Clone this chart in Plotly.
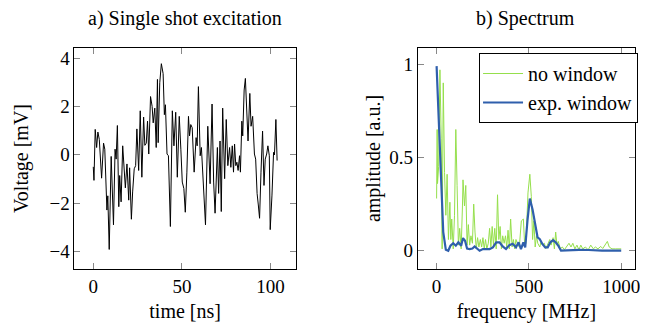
import plotly.graph_objects as go
from plotly.subplots import make_subplots

# ---- data: a) single shot excitation ----
time_ns = [0.0, 0.4, 1.1, 1.9, 2.6, 3.4, 4.7, 5.8, 6.5, 7.7, 8.2, 9.0, 10.1, 11.4, 12.3, 12.9,
           13.6, 14.4, 14.9, 15.7, 16.6, 17.5, 18.1, 19.0, 20.0, 20.5, 21.5, 22.2, 23.1, 23.9,
           24.6, 25.6, 26.5, 27.4, 28.4, 29.1, 29.9, 30.6, 31.3, 32.3, 33.2, 33.8, 34.7, 35.5,
           36.2, 36.6, 37.5, 38.4, 39.4, 40.1, 40.7, 41.6, 42.4, 43.5, 44.6, 45.5, 46.5, 47.4,
           48.5, 49.4, 50.2, 51.1, 51.9, 52.8, 53.7, 54.3, 55.0, 55.8, 56.9, 58.0, 58.6, 59.3,
           60.3, 61.0, 61.9, 63.3, 64.6, 65.9, 67.0, 67.9, 68.7, 69.6, 70.0, 70.7, 71.5, 72.2,
           73.0, 74.1, 75.0, 75.9, 76.9, 77.6, 78.4, 79.1, 79.7, 80.4, 81.0, 81.7, 82.5, 83.0,
           83.8, 84.3, 85.1, 85.8, 86.6, 87.3, 88.3, 89.0, 89.9, 90.9, 91.6, 92.4, 93.1, 93.8,
           94.6, 95.5, 96.3, 97.0, 97.8, 98.5, 99.3, 99.8, 100.8, 101.7, 102.2, 103.0, 103.7]
voltage_mv = [-0.5, -1.06, 1.05, 0.3, 0.94, 0.64, -0.97, 0.48, 0.23, -2.29, -1.7, -3.92, -0.07,
              -2.9, 0.23, -0.18, 1.21, -2.15, -0.86, -1.95, 0.37, -0.86, -1.37, -0.38, -1.88,
              -0.54, -2.67, -1.54, -0.58, -0.45, 1.07, -0.65, 1.82, -0.93, 1.56, 0.39, 0.48,
              1.39, 0.03, 2.41, 2.0, 1.32, 1.93, 0.3, 3.12, 0.5, 2.98, 3.77, 3.36, 1.66, 2.07,
              0.03, -0.04, -2.97, 1.82, 0.37, 1.76, -0.93, 1.59, 0.23, -1.13, -1.4, -2.38, -0.72,
              1.59, 0.78, 1.25, 1.12, -0.72, 0.71, 0.37, 2.82, -0.04, 0.3, -0.99, -2.9, 1.18,
              -1.2, 2.1, -1.13, -2.42, 0.1, 0.3, -1.6, 0.57, -2.35, 1.93, -0.99, 1.46, -0.45,
              0.3, -0.52, 0.37, -0.72, 0.44, -0.45, -0.31, -0.65, -0.04, -0.72, 1.39, 0.78, 2.68,
              3.16, 1.32, 0.57, 2.54, 1.18, 1.59, 0.03, -0.18, -1.6, -2.08, -2.63, -0.72, 0.98,
              -1.27, -0.18, 0.03, 0.37, -0.04, -3.1, -1.67, 0.1, -0.01, 1.46, -0.24]

# ---- data: b) spectrum, no window ----
freq_nowin = [0, 3, 5, 11, 18, 25, 30, 36, 43, 50, 57, 64, 72, 77, 82, 90, 97, 104, 111, 118,
              125, 133, 140, 143, 151, 158, 165, 172, 179, 186, 194, 201, 208, 215, 222, 229,
              237, 244, 251, 258, 265, 272, 280, 287, 294, 301, 308, 315, 323, 330, 337, 344,
              351, 358, 366, 373, 380, 387, 394, 401, 409, 416, 423, 430, 437, 448, 459, 470,
              477, 484, 495, 505, 513, 520, 527, 534, 541, 548, 559, 566, 573, 584, 591, 602,
              613, 620, 631, 638, 645, 652, 659, 670, 681, 692, 702, 717, 728, 738, 749, 760,
              771, 781, 792, 806, 821, 835, 849, 860, 874, 889, 900, 914, 925, 935, 950, 968,
              986, 1000]
amp_nowin = [0.28, 0.65, 0.36, 0.45, 0.97, 0.6, 0.01, 0.9, 0.42, 0.19, 0.41, 0.06, 0.26, 0.06,
             0.17, 0.01, 0.19, 0.65, 0.35, 0.03, 0.12, 0.01, 0.24, 0.38, 0.24, 0.35, 0.03, 0.14,
             0.03, 0.08, 0.04, 0.25, 0.1, 0.01, 0.07, 0.02, 0.06, 0.02, 0.07, 0.01, 0.06, 0.01,
             0.04, 0.12, 0.02, 0.13, 0.03, 0.12, 0.01, 0.3, 0.06, 0.13, 0.01, 0.08, 0.04, 0.08,
             0.02, 0.11, 0.01, 0.17, 0.02, 0.06, 0.01, 0.06, 0.04, 0.02, 0.16, 0.17, 0.03, 0.04,
             0.31, 0.41, 0.29, 0.06, 0.16, 0.02, 0.08, 0.04, 0.02, 0.05, 0.03, 0.04, 0.01, 0.04,
             0.06, 0.03, 0.07, 0.01, 0.1, 0.03, 0.05, 0.01, 0.02, 0.005, 0.02, 0.04, 0.02, 0.04,
             0.01, 0.03, 0.005, 0.03, 0.01, 0.02, 0.005, 0.03, 0.01, 0.02, 0.01, 0.023, 0.012,
             0.03, 0.05, 0.02, 0.01, 0.01, 0.012, 0.01]

# ---- data: b) spectrum, exponential window ----
freq_exp = [0, 9, 22, 36, 50, 63, 75, 90, 104, 118, 133, 143, 154, 165, 179, 194, 206, 219,
            233, 251, 269, 287, 305, 323, 341, 358, 376, 394, 412, 430, 444, 457, 470, 480,
            493, 505, 520, 534, 547, 559, 573, 588, 602, 616, 631, 645, 659, 674, 717, 771,
            824, 896, 1000]
amp_exp = [0.99, 0.77, 0.42, 0.1, 0.005, 0.0, 0.027, 0.04, 0.027, 0.045, 0.027, 0.068, 0.053,
           0.012, 0.009, 0.012, 0.023, 0.012, 0.0, 0.009, 0.009, 0.009, 0.018, 0.045, 0.045,
           0.023, 0.009, 0.03, 0.037, 0.018, 0.045, 0.009, 0.045, 0.018, 0.17, 0.28, 0.22,
           0.133, 0.071, 0.062, 0.036, 0.018, 0.018, 0.045, 0.057, 0.045, 0.027, 0.0, 0.003,
           0.005, 0.004, 0.0, 0.0]

x_ticks_a = [0, 50, 100]
y_ticks_a = [-4, -2, 0, 2, 4]
x_ticks_b = [0, 500, 1000]
y_ticks_b = [0, 0.5, 1]

FONT = "Liberation Serif"
# the page body has an 8px margin: figure is drawn in the 640x317 area after it
OFF = 8
W, H = 640, 317


def xp(px):
    return (px - OFF) / W


def yp(py):
    return 1 - (py - OFF) / H


fig = make_subplots(rows=1, cols=2)

fig.add_trace(go.Scatter(x=time_ns, y=voltage_mv, mode="lines",
                         line=dict(color="black", width=1), showlegend=False), row=1, col=1)
fig.add_trace(go.Scatter(x=freq_nowin, y=amp_nowin, mode="lines", name="no window",
                         line=dict(color="#95df4c", width=1)), row=1, col=2)
fig.add_trace(go.Scatter(x=freq_exp, y=amp_exp, mode="lines", name="exp. window",
                         line=dict(color="#2f5fac", width=2.2)), row=1, col=2)

axis_common = dict(showline=True, linecolor="black", linewidth=1, mirror="allticks",
                   ticks="inside", ticklen=6, tickcolor="#888888", showgrid=False,
                   zeroline=False, tickfont=dict(family=FONT, size=19, color="black"))

yb, yt = yp(269), yp(48)
fig.update_xaxes(domain=[xp(75), xp(298)], range=[-10.6, 114.2], tickvals=x_ticks_a,
                 title=dict(text="time [ns]", font=dict(family=FONT, size=20), standoff=8),
                 row=1, col=1, **axis_common)
fig.update_yaxes(domain=[yb, yt], range=[-4.73, 4.42], tickvals=y_ticks_a,
                 title=dict(text="Voltage [mV]", font=dict(family=FONT, size=20), standoff=15),
                 row=1, col=1, **axis_common)
fig.update_xaxes(domain=[xp(421), xp(640)], range=[-102, 1075], tickvals=x_ticks_b,
                 title=dict(text="frequency [MHz]", font=dict(family=FONT, size=20), standoff=8),
                 row=1, col=2, **axis_common)
fig.update_yaxes(domain=[yb, yt], range=[-0.098, 1.087], tickvals=y_ticks_b,
                 ticktext=["0", "0.5", "1"],
                 title=dict(text="amplitude [a.u.]", font=dict(family=FONT, size=20), standoff=3),
                 row=1, col=2, **axis_common)

fig.add_annotation(text="a) Single shot excitation", x=xp(186.5), y=yp(18.5),
                   xref="paper", yref="paper", showarrow=False, xanchor="center",
                   yanchor="middle", font=dict(family=FONT, size=20, color="black"))
fig.add_annotation(text="b) Spectrum", x=xp(530), y=yp(18.5),
                   xref="paper", yref="paper", showarrow=False, xanchor="center",
                   yanchor="middle", font=dict(family=FONT, size=20, color="black"))

fig.update_layout(
    width=W, height=H, margin=dict(l=0, r=0, t=0, b=0),
    paper_bgcolor="white", plot_bgcolor="white",
    font=dict(family=FONT, size=19, color="black"),
    legend=dict(x=xp(643), y=yp(53), xanchor="right", yanchor="top",
                bordercolor="black", borderwidth=1, bgcolor="white",
                font=dict(family=FONT, size=20), tracegroupgap=0, itemwidth=40,
                indentation=-2),
)

fig.write_html("out.html")
